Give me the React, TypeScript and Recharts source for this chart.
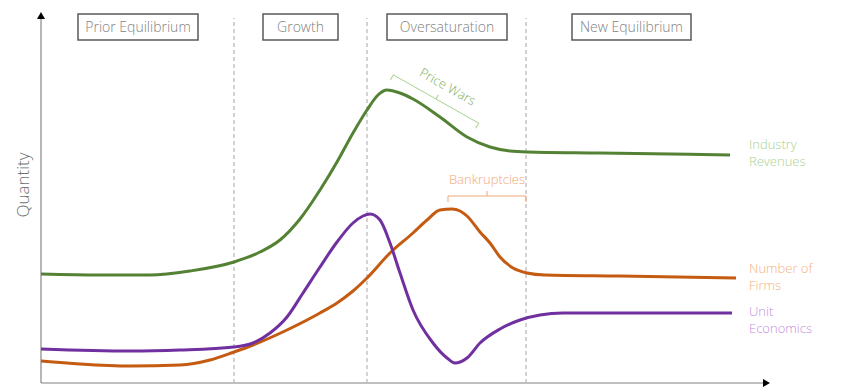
import React from "react";
import {
  LineChart,
  Line,
  XAxis,
  YAxis,
  ReferenceLine,
  ReferenceArea,
  ReferenceDot,
} from "recharts";

// time (arbitrary units) vs quantity (arbitrary units)
const revenues = [
  { t: 0, q: 109 }, { t: 59, q: 108 }, { t: 109, q: 108 }, { t: 149, q: 112 },
  { t: 193, q: 121 }, { t: 219, q: 131 }, { t: 239, q: 143 }, { t: 259, q: 164 },
  { t: 279, q: 193 }, { t: 296, q: 221 }, { t: 312, q: 250 }, { t: 326, q: 273 },
  { t: 337, q: 288 }, { t: 346, q: 293 }, { t: 359, q: 290 }, { t: 372, q: 284 },
  { t: 399, q: 266 }, { t: 426, q: 246 }, { t: 449, q: 236 }, { t: 469, q: 232 },
  { t: 486, q: 231 }, { t: 559, q: 230 }, { t: 689, q: 228 },
];

const firms = [
  { t: 0, q: 22 }, { t: 39, q: 19 }, { t: 89, q: 17 }, { t: 139, q: 18 },
  { t: 169, q: 23 }, { t: 193, q: 31 }, { t: 212, q: 38 }, { t: 246, q: 53 },
  { t: 279, q: 70 }, { t: 296, q: 80 }, { t: 312, q: 92 }, { t: 326, q: 105 },
  { t: 349, q: 130 }, { t: 372, q: 150 }, { t: 386, q: 163 }, { t: 399, q: 173 },
  { t: 411, q: 174 }, { t: 419, q: 172 }, { t: 426, q: 167 }, { t: 439, q: 151 },
  { t: 449, q: 140 }, { t: 459, q: 126 }, { t: 472, q: 115 }, { t: 486, q: 110 },
  { t: 504, q: 108 }, { t: 579, q: 107 }, { t: 695, q: 105 },
];

const unitEconomics = [
  { t: 0, q: 34 }, { t: 89, q: 32 }, { t: 139, q: 33 }, { t: 193, q: 36 },
  { t: 212, q: 40 }, { t: 229, q: 50 }, { t: 246, q: 66 }, { t: 262, q: 90 },
  { t: 279, q: 116 }, { t: 296, q: 141 }, { t: 312, q: 160 }, { t: 322, q: 167 },
  { t: 329, q: 169 }, { t: 339, q: 163 }, { t: 349, q: 140 }, { t: 359, q: 110 },
  { t: 372, q: 73 }, { t: 392, q: 40 }, { t: 406, q: 25 }, { t: 414, q: 20 },
  { t: 426, q: 25 }, { t: 439, q: 40 }, { t: 459, q: 54 }, { t: 479, q: 63 },
  { t: 499, q: 68 }, { t: 522, q: 70 }, { t: 691, q: 70 },
];

const phases = [
  { name: "Prior Equilibrium", from: 37, to: 157 },
  { name: "Growth", from: 222, to: 297 },
  { name: "Oversaturation", from: 346, to: 466 },
  { name: "New Equilibrium", from: 531, to: 650 },
];

const dividers = [193, 326, 485];

const seriesLabels = [
  { lines: ["Industry", "Revenues"], t: 708, q: 239, color: "#a9d18e" },
  { lines: ["Number of", "Firms"], t: 708, q: 115, color: "#f4b183" },
  { lines: ["Unit", "Economics"], t: 708, q: 72, color: "#bf8fdf" },
];

const annotations = [
  { text: "Price Wars", t: 395, q: 284, width: 98, angle: 29.5, line: "#a9d18e", color: "#7fb060" },
  { text: "Bankruptcies", t: 446, q: 187, width: 78, angle: 0, line: "#f0a878", color: "#f2a872" },
];

const FONT = "'Open Sans', 'Noto Sans', sans-serif";
const T_MAX = 729;
const Q_MAX = 371;

function Bracket({ cx, cy, width, angle, text, line, color }: any) {
  const h = width / 2;
  return (
    <g transform={`translate(${cx},${cy}) rotate(${angle})`}>
      <path
        d={`M${-h},6 L${-h},0 L${h},0 L${h},6 M0,0 L0,-5`}
        fill="none"
        stroke={line}
        strokeWidth={1}
      />
      <text
        x={angle ? 4 : 0}
        y={-12}
        textAnchor="middle"
        fill={color}
        fontSize={13}
        fontWeight={300}
        fontFamily={FONT}
      >
        {text}
      </text>
    </g>
  );
}

export default function App() {
  return (
    <LineChart
      width={846}
      height={392}
      margin={{ top: 12, right: 76, bottom: 9, left: 41 }}
      style={{ marginLeft: -8, marginTop: -8 }}
    >
      <XAxis type="number" dataKey="t" domain={[0, T_MAX]} hide />
      <YAxis type="number" dataKey="q" domain={[0, Q_MAX]} hide />

      {phases.map((p) => (
        <ReferenceArea
          key={p.name}
          x1={p.from}
          x2={p.to}
          y1={343}
          y2={369}
          fill="#ffffff"
          fillOpacity={1}
          stroke="#595959"
          strokeWidth={1.5}
          label={{
            value: p.name,
            position: "center",
            fill: "#7f7f7f",
            fontSize: 14,
            fontWeight: 300,
            fontFamily: FONT,
          }}
        />
      ))}

      {dividers.map((d) => (
        <ReferenceLine
          key={d}
          segment={[{ x: d, y: 0 }, { x: d, y: 365 }]}
          stroke="#a6a6a6"
          strokeDasharray="4 3"
          strokeWidth={1}
        />
      ))}

      {/* axes with arrowheads */}
      <ReferenceLine
        segment={[{ x: 0, y: 0 }, { x: 725, y: 0 }]}
        stroke="#bfbfbf"
        strokeWidth={2}
        ifOverflow="visible"
      />
      <ReferenceLine
        segment={[{ x: 0, y: 0 }, { x: 0, y: 366 }]}
        stroke="#6f6f6f"
        strokeWidth={1}
        ifOverflow="visible"
      />
      <ReferenceDot
        x={T_MAX}
        y={0}
        ifOverflow="visible"
        shape={(p: any) => (
          <path d={`M${p.cx},${p.cy} L${p.cx - 7},${p.cy - 4} L${p.cx - 7},${p.cy + 4} Z`} fill="#000" />
        )}
      />
      <ReferenceDot
        x={0}
        y={Q_MAX}
        ifOverflow="visible"
        shape={(p: any) => (
          <path d={`M${p.cx},${p.cy} L${p.cx - 4},${p.cy + 7} L${p.cx + 4},${p.cy + 7} Z`} fill="#000" />
        )}
      />
      <ReferenceDot
        x={-19}
        y={198}
        ifOverflow="visible"
        shape={(p: any) => (
          <text
            x={p.cx}
            y={p.cy}
            transform={`rotate(-90 ${p.cx} ${p.cy})`}
            textAnchor="middle"
            dominantBaseline="central"
            fill="#6f6f6f"
            fontSize={17}
            fontWeight={300}
            fontFamily={FONT}
          >
            Quantity
          </text>
        )}
      />

      <Line data={revenues} dataKey="q" type="monotone" stroke="#548235" strokeWidth={3} dot={false} isAnimationActive={false} />
      <Line data={firms} dataKey="q" type="monotone" stroke="#c55a11" strokeWidth={3} dot={false} isAnimationActive={false} />
      <Line data={unitEconomics} dataKey="q" type="monotone" stroke="#7030a0" strokeWidth={3} dot={false} isAnimationActive={false} />

      {annotations.map((a) => (
        <ReferenceDot
          key={a.text}
          x={a.t}
          y={a.q}
          ifOverflow="visible"
          shape={(p: any) => <Bracket cx={p.cx} cy={p.cy} {...a} />}
        />
      ))}

      {seriesLabels.map((s) => (
        <ReferenceDot
          key={s.lines[0]}
          x={s.t}
          y={s.q}
          ifOverflow="visible"
          shape={(p: any) => (
            <text
              x={p.cx}
              y={p.cy}
              fill={s.color}
              fontSize={13}
              fontWeight={300}
              fontFamily={FONT}
              dominantBaseline="central"
            >
              <tspan x={p.cx}>{s.lines[0]}</tspan>
              <tspan x={p.cx} dy={17}>{s.lines[1]}</tspan>
            </text>
          )}
        />
      ))}
    </LineChart>
  );
}
